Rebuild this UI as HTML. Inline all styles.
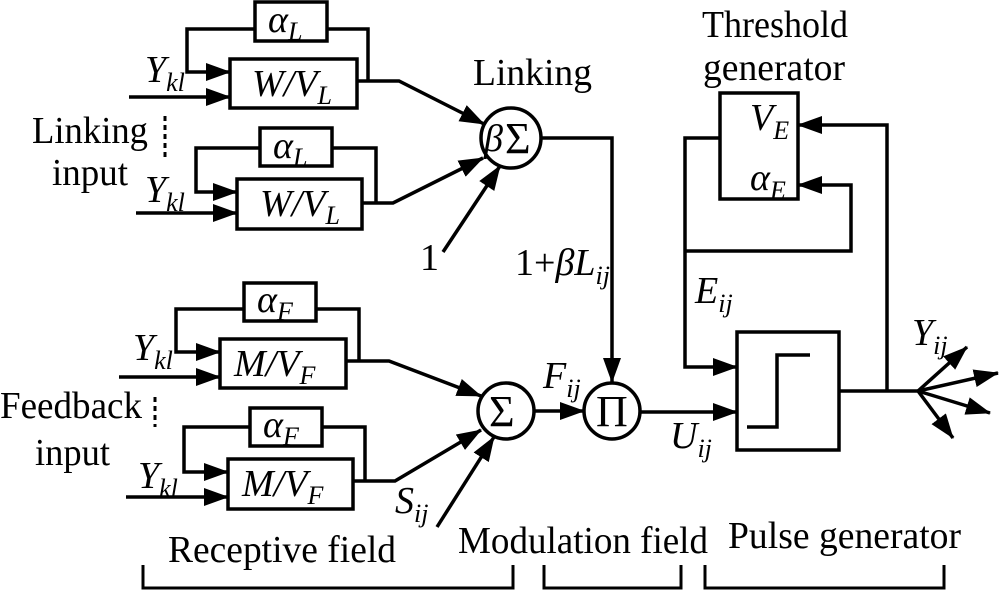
<!DOCTYPE html>
<html><head><meta charset="utf-8"><style>
html,body{margin:0;padding:0;background:#fff;}
svg{display:block;}
svg text{font-family:"Liberation Serif","Times New Roman",Times,serif;fill:#000;}
.i{font-style:italic;}
</style></head><body>
<svg width="1000" height="591" viewBox="0 0 1000 591" xmlns="http://www.w3.org/2000/svg" font-family="Liberation Serif, Times New Roman, serif">
<defs>
<marker id="a" markerUnits="userSpaceOnUse" markerWidth="26" markerHeight="18" refX="24" refY="9" orient="auto">
<path d="M0,0 L25,9 L0,18 Z" fill="#000"/>
</marker>
</defs>
<g stroke="#000" stroke-width="3.5" fill="none">
<rect x="255" y="2" width="72" height="39"/>
<rect x="230" y="59" width="127" height="49"/>
<polyline points="255,29 187,29 187,72 230,72" marker-end="url(#a)"/>
<polyline points="327,29 368,29 368,81"/>
<line x1="129" y1="97" x2="230" y2="97" marker-end="url(#a)"/>
<polyline points="357,81 399,81 484,124" marker-end="url(#a)"/>
<rect x="260" y="128" width="72" height="38"/>
<rect x="237" y="179" width="125" height="50"/>
<polyline points="260,148 196,148 196,192 237,192" marker-end="url(#a)"/>
<polyline points="332,148 376,148 376,203"/>
<line x1="136" y1="213" x2="237" y2="213" marker-end="url(#a)"/>
<polyline points="362,203 393,203 483,158" marker-end="url(#a)"/>
<line x1="443" y1="252" x2="500" y2="166" marker-end="url(#a)"/>
<circle cx="511" cy="138" r="30"/>
<polyline points="541,138 612,138 612,382" marker-end="url(#a)"/>
<rect x="244" y="283" width="72" height="38"/>
<rect x="220" y="339" width="126" height="49"/>
<polyline points="244,309 176,309 176,352 220,352" marker-end="url(#a)"/>
<polyline points="316,309 359,309 359,361"/>
<line x1="119" y1="377" x2="220" y2="377" marker-end="url(#a)"/>
<polyline points="346,361 389,361 481,396" marker-end="url(#a)"/>
<rect x="250" y="408" width="72" height="38"/>
<rect x="228" y="459" width="125" height="50"/>
<polyline points="250,427 184,427 184,472 228,472" marker-end="url(#a)"/>
<polyline points="322,427 365,427 365,481"/>
<line x1="126" y1="497" x2="228" y2="497" marker-end="url(#a)"/>
<polyline points="353,481 395,481 481,430" marker-end="url(#a)"/>
<line x1="437" y1="527" x2="494" y2="437" marker-end="url(#a)"/>
<circle cx="506" cy="411" r="28"/>
<line x1="534" y1="411" x2="584" y2="411" marker-end="url(#a)"/>
<circle cx="612" cy="411" r="28"/>
<line x1="640" y1="412" x2="737" y2="412" marker-end="url(#a)"/>
<rect x="720" y="93" width="78" height="106"/>
<polyline points="720,138 685,138 685,367 737,367" marker-end="url(#a)"/>
<polyline points="685,251 851,251 851,185 798,185" marker-end="url(#a)"/>
<rect x="737" y="332" width="102" height="118"/>
<polyline points="747,427 777,427 777,355 810,355"/>
<line x1="839" y1="391" x2="918" y2="391"/>
<polyline points="887,391 887,125 798,125" marker-end="url(#a)"/>
<line x1="918" y1="391" x2="967" y2="347" marker-end="url(#a)"/>
<line x1="918" y1="391" x2="998" y2="373" marker-end="url(#a)"/>
<line x1="918" y1="391" x2="990" y2="413" marker-end="url(#a)"/>
<line x1="918" y1="391" x2="953" y2="438" marker-end="url(#a)"/>
<line x1="165" y1="116" x2="165" y2="157" stroke-width="3" stroke-dasharray="5,4"/>
<line x1="155" y1="397" x2="155" y2="427" stroke-width="3" stroke-dasharray="5,4"/>
<polyline points="143,565 143,588 513,588 513,565" stroke-width="3"/>
<polyline points="544,565 544,588 681,588 681,565" stroke-width="3"/>
<polyline points="705,565 705,588 944,588 944,565" stroke-width="3"/>
</g>
<g font-size="38">
<text x="32" y="143" textLength="116" lengthAdjust="spacingAndGlyphs">Linking</text>
<text x="52" y="185" textLength="76" lengthAdjust="spacingAndGlyphs">input</text>
<text x="0" y="418" textLength="142" lengthAdjust="spacingAndGlyphs">Feedback</text>
<text x="35" y="465" textLength="75" lengthAdjust="spacingAndGlyphs">input</text>
<text x="473" y="85" textLength="119" lengthAdjust="spacingAndGlyphs">Linking</text>
<text x="702" y="37" textLength="146" lengthAdjust="spacingAndGlyphs">Threshold</text>
<text x="703" y="80" textLength="142" lengthAdjust="spacingAndGlyphs">generator</text>
<text x="420" y="270">1</text>
<text x="168" y="562" textLength="228" lengthAdjust="spacingAndGlyphs">Receptive field</text>
<text x="458" y="553" textLength="250" lengthAdjust="spacingAndGlyphs">Modulation field</text>
<text x="728" y="548" textLength="233" lengthAdjust="spacingAndGlyphs">Pulse generator</text>
</g>
<g font-size="38">
<text x="145" y="82" class="i">Y<tspan font-size="26" dy="9">kl</tspan></text>
<text x="145" y="202" class="i">Y<tspan font-size="26" dy="9">kl</tspan></text>
<text x="133" y="360" class="i">Y<tspan font-size="26" dy="9">kl</tspan></text>
<text x="138" y="488" class="i">Y<tspan font-size="26" dy="9">kl</tspan></text>
<text x="268" y="32" class="i">α<tspan font-size="26" dy="8">L</tspan></text>
<text x="273" y="158" class="i">α<tspan font-size="26" dy="8">L</tspan></text>
<text x="257" y="312" class="i">α<tspan font-size="26" dy="8">F</tspan></text>
<text x="263" y="437" class="i">α<tspan font-size="26" dy="8">F</tspan></text>
<text x="252" y="96" class="i">W/V<tspan font-size="26" dy="8">L</tspan></text>
<text x="260" y="216" class="i">W/V<tspan font-size="26" dy="8">L</tspan></text>
<text x="234" y="376" class="i">M/V<tspan font-size="26" dy="8">F</tspan></text>
<text x="242" y="496" class="i">M/V<tspan font-size="26" dy="8">F</tspan></text>
<text x="750" y="130" class="i">V<tspan font-size="26" dy="9">E</tspan></text>
<text x="750" y="190" class="i">α<tspan font-size="26" dy="9">E</tspan></text>
<text x="515" y="275">1+<tspan class="i">βL</tspan><tspan class="i" font-size="26" dy="9">ij</tspan></text>
<text x="695" y="303" class="i">E<tspan font-size="26" dy="9">ij</tspan></text>
<text x="543" y="388" class="i">F<tspan font-size="26" dy="9">ij</tspan></text>
<text x="670" y="448" class="i">U<tspan font-size="26" dy="9">ij</tspan></text>
<text x="912" y="345" class="i">Y<tspan font-size="26" dy="9">ij</tspan></text>
<text x="395" y="513" class="i">S<tspan font-size="26" dy="9">ij</tspan></text>
</g>
<text x="484" y="151" font-size="38" class="i">β</text>
<text x="505" y="153" font-size="44">Σ</text>
<text x="489" y="426" font-size="44">Σ</text>
<text x="596" y="426" font-size="44">Π</text>
</svg>
</body></html>
